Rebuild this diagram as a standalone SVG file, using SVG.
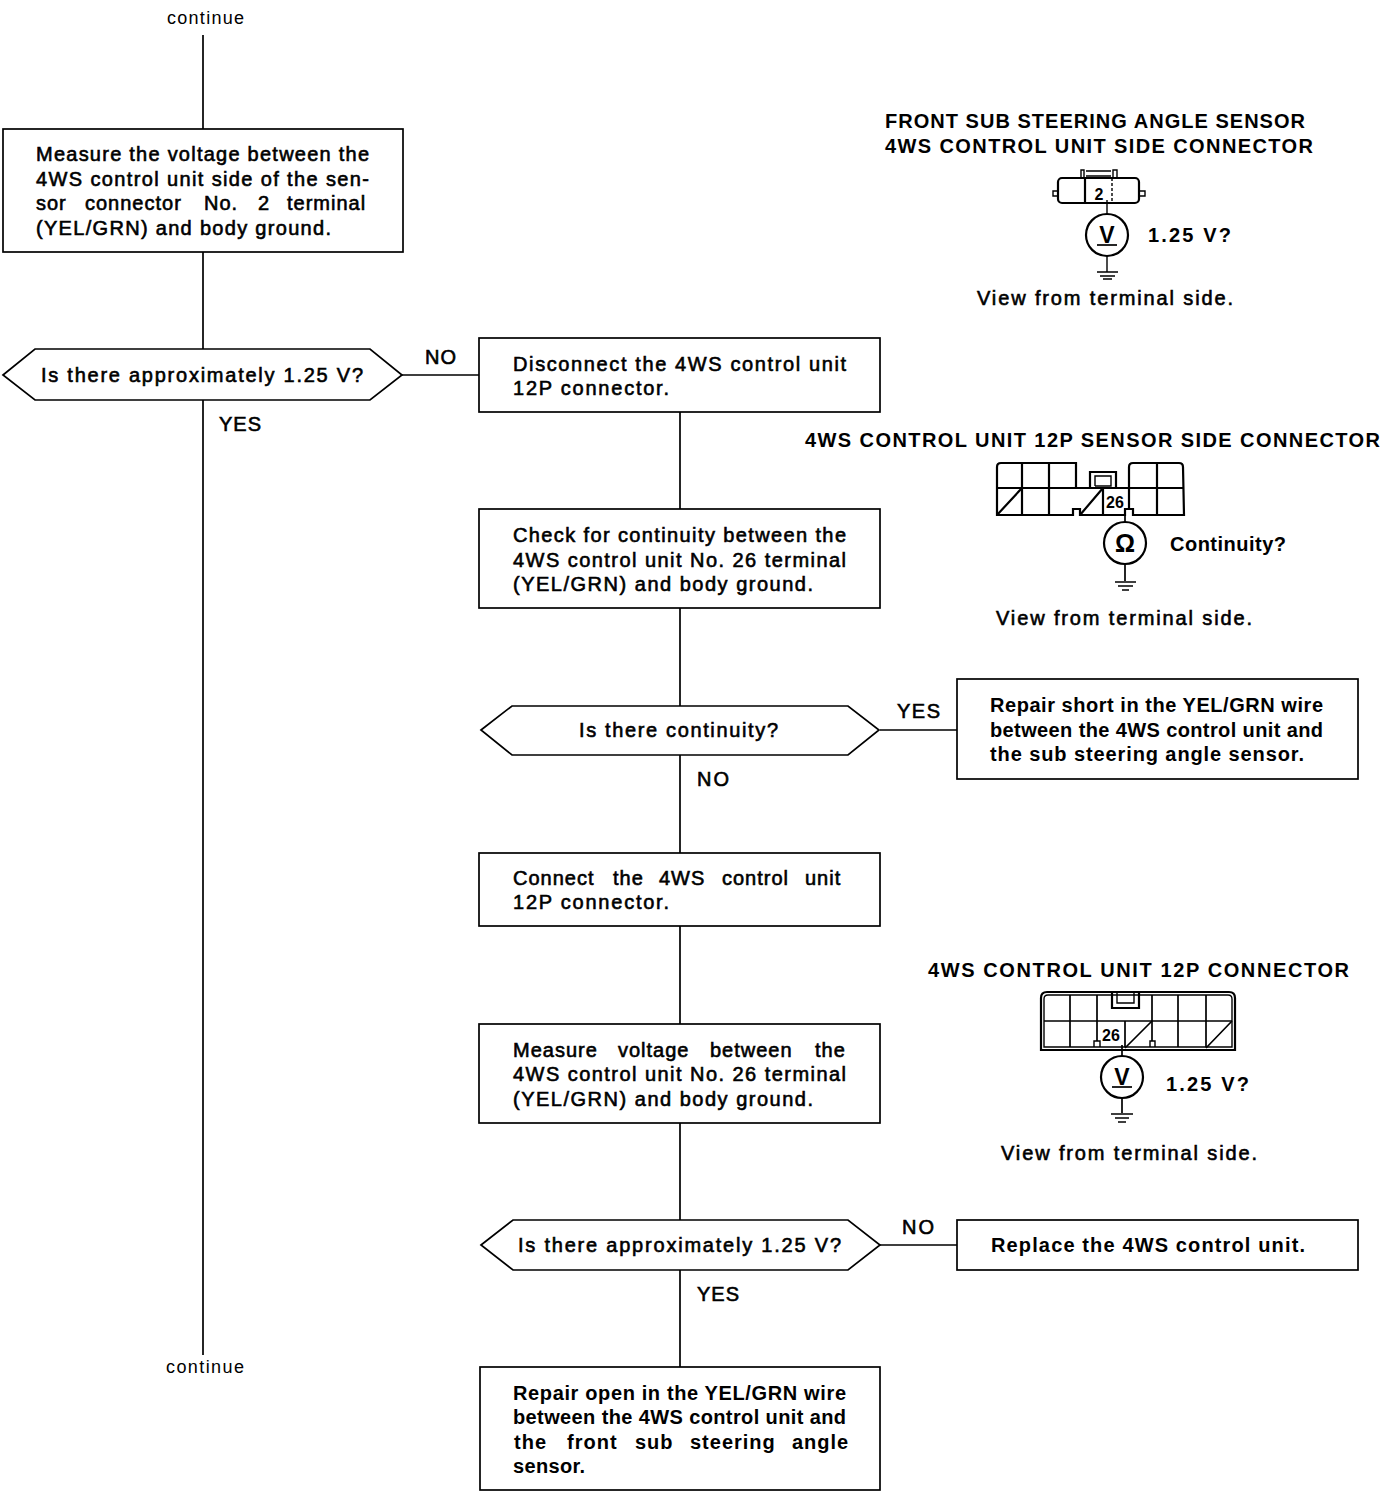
<svg xmlns="http://www.w3.org/2000/svg" width="1392" height="1510" viewBox="0 0 1392 1510">
<style>
text{font-family:"Liberation Sans",Arial,sans-serif;font-size:20px;fill:#000}
.m{stroke:#000;stroke-width:.6px}
.b{font-weight:700}
.c{font-size:18px}
.j{letter-spacing:1px}
.box{fill:#fff;stroke:#000;stroke-width:1.7}
.ln{fill:none;stroke:#000;stroke-width:1.7}
.th{fill:none;stroke:#000;stroke-width:1.4}
.hv{fill:none;stroke:#000;stroke-width:2.2}
.d{fill:none;stroke:#000;stroke-width:1.4;stroke-dasharray:3 2}
</style>
<rect width="1392" height="1510" fill="#fff"/>
<g id="connectors" class="ln">
<path d="M203 35V129M203 252V349M203 400V1355"/>
<path d="M402 375H479M680 412V509M680 608V706M680 755V853M680 926V1024M680 1123V1220M680 1270V1367M880 730H957M880 1245H957"/>
</g>
<g id="continue-top"><text class="c" x="167" y="24" textLength="77">continue</text></g>
<g id="continue-bottom"><text class="c" x="166" y="1373" textLength="78">continue</text></g>
<g id="step-measure">
<rect class="box" x="3" y="129" width="400" height="123"/>
<text class="m" x="36" y="161" textLength="333">Measure the voltage between the</text>
<text class="m" x="36" y="186" textLength="333">4WS control unit side of the sen-</text>
<text class="m j" y="210"><tspan x="36">sor</tspan><tspan x="85">connector</tspan><tspan x="204">No.</tspan><tspan x="258">2</tspan><tspan x="287">terminal</tspan></text>
<text class="m" x="36" y="235" textLength="295">(YEL/GRN) and body ground.</text>
</g>
<g id="decision-1">
<path class="box" d="M3 375L35 349H370L402 375L370 400H35Z"/>
<text class="m" x="41" y="382" textLength="322">Is there approximately 1.25 V?</text>
<text class="m" x="425" y="364" textLength="31">NO</text>
<text class="m" x="219" y="431" textLength="42">YES</text>
</g>
<g id="step-disconnect">
<rect class="box" x="479" y="338" width="401" height="74"/>
<text class="m" x="513" y="371" textLength="333">Disconnect the 4WS control unit</text>
<text class="m" x="513" y="395" textLength="156">12P connector.</text>
</g>
<g id="step-check">
<rect class="box" x="479" y="509" width="401" height="99"/>
<text class="m" x="513" y="542" textLength="333">Check for continuity between the</text>
<text class="m" x="513" y="567" textLength="333">4WS control unit No. 26 terminal</text>
<text class="m" x="513" y="591" textLength="300">(YEL/GRN) and body ground.</text>
</g>
<g id="decision-2">
<path class="box" d="M481 730L512 706H848L879 730L848 755H512Z"/>
<text class="m" x="579" y="737" textLength="199">Is there continuity?</text>
<text class="m" x="897" y="718" textLength="43">YES</text>
<text class="m" x="697" y="786" textLength="32">NO</text>
</g>
<g id="repair-short">
<rect class="box" x="957" y="679" width="401" height="100"/>
<text class="b" x="990" y="712" textLength="333">Repair short in the YEL/GRN wire</text>
<text class="b" x="990" y="737" textLength="333">between the 4WS control unit and</text>
<text class="b" x="990" y="761" textLength="314">the sub steering angle sensor.</text>
</g>
<g id="step-connect">
<rect class="box" x="479" y="853" width="401" height="73"/>
<text class="m j" y="885"><tspan x="513">Connect</tspan><tspan x="613">the</tspan><tspan x="659">4WS</tspan><tspan x="722">control</tspan><tspan x="805">unit</tspan></text>
<text class="m" x="513" y="909" textLength="156">12P connector.</text>
</g>
<g id="step-measure-2">
<rect class="box" x="479" y="1024" width="401" height="99"/>
<text class="m j" y="1057"><tspan x="513">Measure</tspan><tspan x="618">voltage</tspan><tspan x="710">between</tspan><tspan x="815">the</tspan></text>
<text class="m" x="513" y="1081" textLength="333">4WS control unit No. 26 terminal</text>
<text class="m" x="513" y="1106" textLength="300">(YEL/GRN) and body ground.</text>
</g>
<g id="decision-3">
<path class="box" d="M481 1245L513 1220H848L880 1245L848 1270H513Z"/>
<text class="m" x="518" y="1252" textLength="323">Is there approximately 1.25 V?</text>
<text class="m" x="902" y="1234" textLength="32">NO</text>
<text class="m" x="697" y="1301" textLength="42">YES</text>
</g>
<g id="replace-unit">
<rect class="box" x="957" y="1220" width="401" height="50"/>
<text class="b" x="991" y="1252" textLength="314">Replace the 4WS control unit.</text>
</g>
<g id="repair-open">
<rect class="box" x="480" y="1367" width="400" height="123"/>
<text class="b" x="513" y="1400" textLength="333">Repair open in the YEL/GRN wire</text>
<text class="b" x="513" y="1424" textLength="333">between the 4WS control unit and</text>
<text class="b j" y="1449"><tspan x="514">the</tspan><tspan x="567">front</tspan><tspan x="635">sub</tspan><tspan x="690">steering</tspan><tspan x="792">angle</tspan></text>
<text class="b" x="513" y="1473" textLength="72">sensor.</text>
</g>
<g id="figure-sensor">
<text class="b" x="885" y="128" textLength="420">FRONT SUB STEERING ANGLE SENSOR</text>
<text class="b" x="885" y="153" textLength="428">4WS CONTROL UNIT SIDE CONNECTOR</text>
<rect class="hv" x="1058" y="178" width="81" height="25" rx="4"/>
<path class="th" d="M1058 191H1053V196H1058M1139 191H1145V196H1139"/>
<path class="hv" d="M1085 178V203"/>
<path class="d" d="M1112 178V203"/>
<path class="th" d="M1081 178V170H1084V178M1117 178V170H1113V178M1086 171H1111M1086 176H1111"/>
<text class="b" x="1099" y="200" text-anchor="middle" style="font-size:16px">2</text>
<path class="th" d="M1107 200V214M1107 256V272"/>
<circle class="hv" cx="1107" cy="235" r="21"/>
<text class="b" x="1107" y="243" text-anchor="middle" style="font-size:23px">V</text>
<path class="ln" d="M1097 245H1117"/>
<path class="th" d="M1097 272H1118M1100 276H1115M1103 279H1112"/>
<text class="b" x="1148" y="242" textLength="83">1.25 V?</text>
<text class="m" x="977" y="305" textLength="256">View from terminal side.</text>
</g>
<g id="figure-12p-sensor">
<text class="b" x="805" y="447" textLength="575">4WS CONTROL UNIT 12P SENSOR SIDE CONNECTOR</text>
<path class="hv" d="M997 467Q997 463 1001 463H1076V488H1129V467Q1129 463 1133 463H1179Q1183 463 1183 467L1184 515H1133V509H1125V515H1080V509H1073V515H997Z"/>
<path class="hv" d="M997 488H1184M1022 463V515M1049 463V515M1103 488V515M1157 463V515M1129 488V509"/>
<path class="hv" d="M997 515L1022 488M1080 515L1103 488"/>
<path class="hv" d="M1090 488V472H1116V488"/>
<path class="th" d="M1095 486V476H1111V486H1095"/>
<text class="b" x="1115" y="508" text-anchor="middle" style="font-size:16px">26</text>
<path class="ln" d="M1125 510V522M1125 564V581"/>
<circle class="hv" cx="1125" cy="543" r="21"/>
<text class="b" x="1125" y="552" text-anchor="middle" style="font-size:25px">Ω</text>
<path class="th" d="M1115 582H1136M1118 586H1133M1122 590H1129"/>
<text class="b" x="1170" y="551" textLength="116">Continuity?</text>
<text class="m" x="996" y="625" textLength="256">View from terminal side.</text>
</g>
<g id="figure-12p">
<text class="b" x="928" y="977" textLength="421">4WS CONTROL UNIT 12P CONNECTOR</text>
<path class="hv" d="M1041 998Q1041 992 1047 992H1229Q1235 992 1235 998V1050H1041Z"/>
<path class="th" d="M1044 999Q1044 995 1048 995H1228Q1232 995 1232 999V1047H1044Z"/>
<path class="ln" d="M1044 1021H1232M1070 995V1047M1097 995V1041M1125 1021V1047M1152 995V1041M1178 995V1047M1206 995V1047"/>
<path class="ln" d="M1125 1048L1152 1021M1206 1048L1232 1021"/>
<path class="th" d="M1094 1047V1041H1100V1047M1150 1047V1041H1155V1047"/>
<path class="hv" d="M1112 993V1008H1139V993"/>
<path class="th" d="M1117 993V1003H1134V993"/>
<text class="b" x="1111" y="1041" text-anchor="middle" style="font-size:16px">26</text>
<path class="ln" d="M1122 1045V1056M1122 1098V1113"/>
<circle class="hv" cx="1122" cy="1077" r="21"/>
<text class="b" x="1122" y="1085" text-anchor="middle" style="font-size:23px">V</text>
<path class="ln" d="M1112 1087H1132"/>
<path class="th" d="M1111 1114H1133M1115 1118H1129M1118 1122H1126"/>
<text class="b" x="1166" y="1091" textLength="83">1.25 V?</text>
<text class="m" x="1001" y="1160" textLength="256">View from terminal side.</text>
</g>
</svg>
